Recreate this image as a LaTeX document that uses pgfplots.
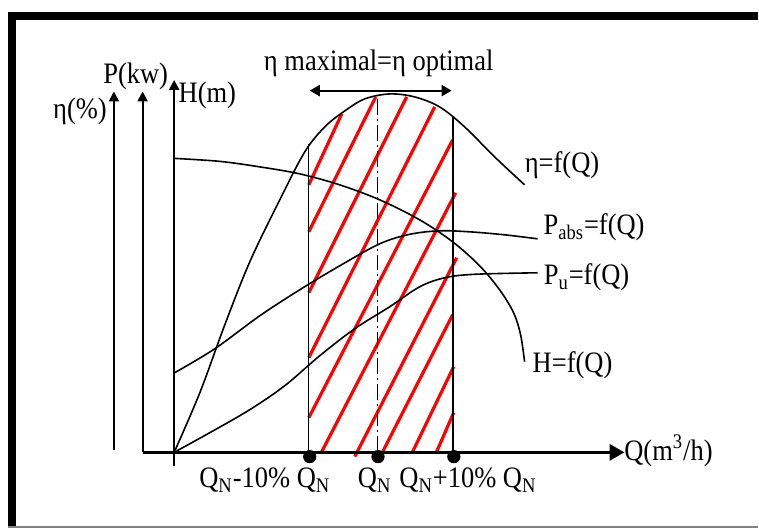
\documentclass[border=0pt]{standalone}
\usepackage{pgfplots}
\pgfplotsset{compat=1.18}
\usepackage{fontspec}
\setmainfont{Liberation Serif}
\usetikzlibrary{arrows.meta}

\tikzset{
  lbl/.style={inner sep=0pt, anchor=base, yscale=1.12, font=\fontsize{13.25}{15}\selectfont},
  axarrow/.style={line width=1pt, -{Triangle[length=5pt,width=5pt]}},
  curve/.style={black, line width=0.8pt, smooth, tension=0.55},
  stripe/.style={red, line width=1.6pt},
}

\begin{document}
\begin{tikzpicture}
\begin{axis}[
  scale only axis, width=379.5pt, height=265pt,
  xmin=0, xmax=759, ymin=0, ymax=530, y dir=reverse,
  hide axis, clip=false,
]
% page extent
\path (axis cs:0,0) rectangle (axis cs:759,530);

% frame
\fill[black] (axis cs:8,12.5) rectangle (axis cs:759,20);
\fill[black] (axis cs:8,12.5) rectangle (axis cs:16,528);
\draw[gray, line width=0.6pt] (axis cs:8,527.5) -- (axis cs:759,527.5);

% hatched operating range (red stripes)
\addplot[stripe] coordinates {(309,185) (342,114)};
\addplot[stripe] coordinates {(309,232) (376,97)};
\addplot[stripe] coordinates {(309,293) (407,97)};
\addplot[stripe] coordinates {(309,358) (435,107)};
\addplot[stripe] coordinates {(309,418) (453,140)};
\addplot[stripe] coordinates {(322,452) (456,193)};
\addplot[stripe] coordinates {(355,457) (457,258)};
\addplot[stripe] coordinates {(383,452) (453,315)};
\addplot[stripe] coordinates {(413,452) (454,367)};
\addplot[stripe] coordinates {(437,452) (454,413)};

% boundaries of the range
\addplot[black, line width=0.7pt] coordinates {(309,452.7) (309,144)};
\addplot[black, line width=0.7pt] coordinates {(453.5,452.7) (453.5,116)};
\addplot[black, line width=0.65pt, dash pattern=on 8pt off 2pt on 1pt off 2pt] coordinates {(377.5,452.7) (377.5,95)};

% eta = f(Q)
\addplot[curve] coordinates {
  (174.3,452.7) (200,393) (225,325) (250,262) (280,200) (305,152)
  (325,127) (345,111) (365,99) (390,94) (415,97) (440,107)
  (465,127) (495,157) (525,185)};
% H = f(Q)
\addplot[curve] coordinates {
  (174.3,158.5) (220,161.5) (260,167) (300,174) (340,185) (380,200)
  (420,220) (453,242) (480,266) (500,290) (514,313) (521,335) (525,362)};
% P_abs = f(Q)
\addplot[curve] coordinates {
  (174.3,373.3) (215,349) (260,316) (300,290) (340,266) (380,244)
  (410,234.5) (440,231) (470,232) (505,235) (538,239)};
% P_u = f(Q)
\addplot[curve] coordinates {
  (174.3,452.7) (210,433) (250,410) (285,386) (320,356) (355,329)
  (390,307) (420,287) (445,278) (475,274.5) (538,273)};

% axes
\draw[axarrow] (axis cs:114,450.7) -- (axis cs:114,91.5);
\draw[axarrow] (axis cs:142.7,452.7) -- (axis cs:142.7,91.5);
\draw[axarrow] (axis cs:174.3,466.7) -- (axis cs:174.3,80);
\draw[line width=1.65pt, -{Triangle[length=7.5pt,width=8pt]}] (axis cs:142.7,452.7) -- (axis cs:625,452.7);

% flow rate markers
\addplot[only marks, mark=*, mark size=3.1pt, black] coordinates {(310,457) (378.3,457) (454.2,457)};

% range of maximum efficiency
\draw[line width=1pt, {Triangle[length=5pt,width=5.5pt]}-{Triangle[length=5pt,width=5.5pt]}]
  (axis cs:310,90.7) -- (axis cs:452,90.7);

% labels
\node[lbl] at (axis cs:80,118.5) {η(\%)};
\node[lbl] at (axis cs:135.8,83.5) {P(kw)};
\node[lbl] at (axis cs:207.5,102.5) {H(m)};
\node[lbl] at (axis cs:379,71) {η maximal=η optimal};
\node[lbl] at (axis cs:562.5,173) {η=f(Q)};
\node[lbl] at (axis cs:594.5,234.5) {P\textsubscript{abs}=f(Q)};
\node[lbl] at (axis cs:587,285) {P\textsubscript{u}=f(Q)};
\node[lbl] at (axis cs:573,373) {H=f(Q)};
\node[lbl] at (axis cs:669,461) {Q(m\textsuperscript{3}/h)};
\node[lbl] at (axis cs:265,488) {Q\textsubscript{N}-10\% Q\textsubscript{N}};
\node[lbl] at (axis cs:375,488) {Q\textsubscript{N}};
\node[lbl] at (axis cs:468.3,488) {Q\textsubscript{N}+10\% Q\textsubscript{N}};
\end{axis}
\end{tikzpicture}
\end{document}
